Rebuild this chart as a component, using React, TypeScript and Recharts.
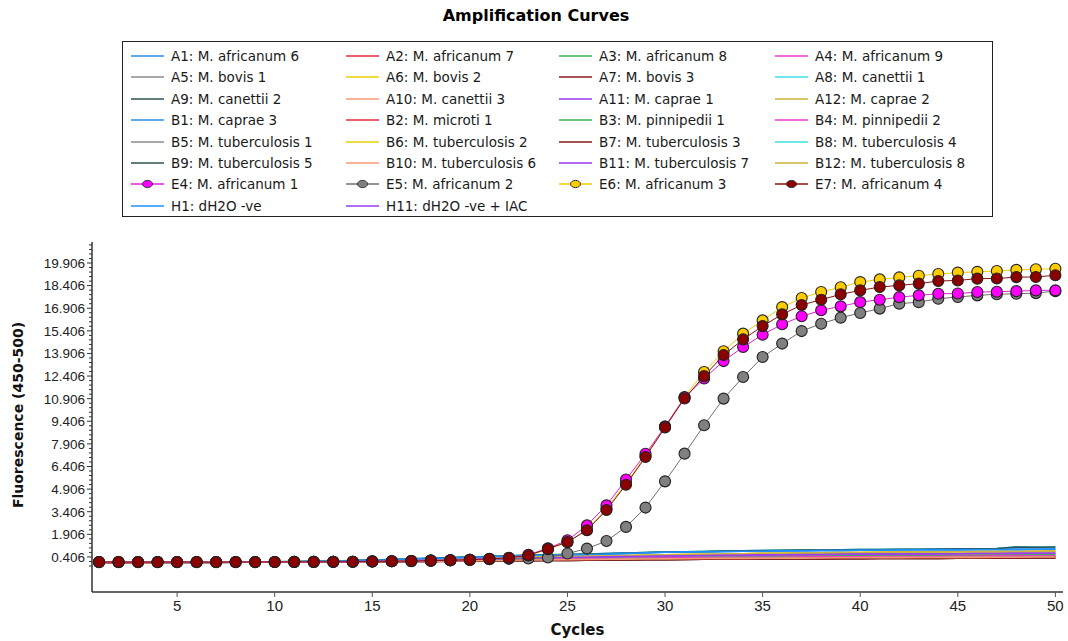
import { LineChart, Line, XAxis, YAxis } from "recharts"

// cycle numbers on the x axis
const cycles = [
  1, 2, 3, 4, 5, 6, 7, 8, 9, 10, 11, 12, 13, 14, 15, 16, 17, 18, 19, 20, 21, 22, 23, 24, 25,
  26, 27, 28, 29, 30, 31, 32, 33, 34, 35, 36, 37, 38, 39, 40, 41, 42, 43, 44, 45, 46, 47, 48, 49, 50,
]

const xTicks = [5, 10, 15, 20, 25, 30, 35, 40, 45, 50]
const yMajorTicks = [
  0.406, 1.906, 3.406, 4.906, 6.406, 7.906, 9.406, 10.906, 12.406, 13.906, 15.406, 16.906, 18.406, 19.906,
]

// amplification curves
const e4Africanum1 = [
  0.07, 0.06, 0.07, 0.07, 0.07, 0.06, 0.07, 0.07, 0.07, 0.07,
  0.07, 0.08, 0.09, 0.09, 0.11, 0.12, 0.13, 0.16, 0.18, 0.21,
  0.27, 0.35, 0.55, 0.98, 1.51, 2.5, 3.83, 5.54, 7.25, 9.05,
  10.98, 12.24, 13.4, 14.33, 15.15, 15.84, 16.37, 16.77, 17.03, 17.31,
  17.47, 17.64, 17.76, 17.87, 17.88, 17.98, 18.0, 18.04, 18.09, 18.09,
]
const e5Africanum2 = [
  0.07, 0.07, 0.06, 0.07, 0.07, 0.07, 0.07, 0.06, 0.07, 0.07,
  0.08, 0.08, 0.09, 0.09, 0.1, 0.12, 0.14, 0.16, 0.19, 0.22,
  0.26, 0.28, 0.3, 0.37, 0.63, 0.96, 1.46, 2.4, 3.68, 5.42,
  7.26, 9.14, 10.91, 12.34, 13.67, 14.56, 15.39, 15.88, 16.28, 16.59,
  16.88, 17.21, 17.31, 17.54, 17.65, 17.76, 17.83, 17.87, 17.91, 18.04,
]
const e6Africanum3 = [
  0.06, 0.07, 0.07, 0.07, 0.06, 0.07, 0.07, 0.07, 0.06, 0.07,
  0.08, 0.08, 0.09, 0.09, 0.1, 0.12, 0.14, 0.17, 0.19, 0.22,
  0.27, 0.33, 0.5, 0.92, 1.38, 2.2, 3.6, 5.3, 7.1, 9.05,
  11.02, 12.68, 14.05, 15.22, 16.1, 16.98, 17.58, 17.98, 18.3, 18.64,
  18.82, 18.95, 19.06, 19.18, 19.27, 19.32, 19.38, 19.45, 19.49, 19.53,
]
const e7Africanum4 = [
  0.07, 0.07, 0.07, 0.06, 0.07, 0.07, 0.06, 0.07, 0.07, 0.07,
  0.08, 0.08, 0.08, 0.09, 0.11, 0.12, 0.14, 0.16, 0.19, 0.22,
  0.28, 0.34, 0.52, 0.94, 1.4, 2.18, 3.52, 5.2, 7.04, 9.0,
  10.92, 12.4, 13.8, 14.84, 15.72, 16.5, 17.12, 17.47, 17.83, 18.09,
  18.31, 18.42, 18.54, 18.71, 18.75, 18.87, 18.88, 18.97, 18.98, 19.09,
]

// flat (non-amplifying) wells, grouped by how high they end up
const flatTeal = [
  0.06, 0.06, 0.06, 0.07, 0.06, 0.07, 0.07, 0.08, 0.08, 0.09,
  0.1, 0.11, 0.13, 0.16, 0.2, 0.24, 0.28, 0.32, 0.36, 0.4,
  0.44, 0.48, 0.51, 0.54, 0.57, 0.6, 0.63, 0.67, 0.7, 0.73,
  0.75, 0.77, 0.79, 0.81, 0.83, 0.85, 0.86, 0.87, 0.88, 0.89,
  0.9, 0.91, 0.92, 0.93, 0.94, 0.95, 0.97, 1.06, 1.05, 1.07,
]
const flatBlue = [
  0.05, 0.06, 0.06, 0.06, 0.07, 0.06, 0.07, 0.07, 0.08, 0.08,
  0.09, 0.1, 0.12, 0.15, 0.18, 0.22, 0.26, 0.3, 0.34, 0.38,
  0.42, 0.46, 0.5, 0.53, 0.55, 0.57, 0.6, 0.64, 0.68, 0.72,
  0.74, 0.75, 0.77, 0.78, 0.8, 0.81, 0.82, 0.83, 0.84, 0.86,
  0.87, 0.88, 0.88, 0.89, 0.89, 0.9, 0.9, 0.91, 0.92, 0.93,
]
const flatYellow = [
  0.05, 0.05, 0.06, 0.06, 0.06, 0.06, 0.07, 0.07, 0.07, 0.08,
  0.08, 0.09, 0.1, 0.12, 0.14, 0.17, 0.2, 0.23, 0.26, 0.29,
  0.32, 0.35, 0.38, 0.41, 0.44, 0.46, 0.48, 0.5, 0.52, 0.54,
  0.56, 0.58, 0.6, 0.62, 0.64, 0.65, 0.66, 0.68, 0.69, 0.7,
  0.71, 0.73, 0.74, 0.74, 0.75, 0.76, 0.76, 0.77, 0.78, 0.79,
]
const flatPurple = [
  0.05, 0.05, 0.05, 0.06, 0.06, 0.06, 0.06, 0.07, 0.07, 0.07,
  0.08, 0.08, 0.09, 0.1, 0.12, 0.14, 0.16, 0.19, 0.22, 0.25,
  0.28, 0.3, 0.33, 0.35, 0.37, 0.39, 0.41, 0.43, 0.45, 0.47,
  0.48, 0.5, 0.51, 0.52, 0.54, 0.55, 0.56, 0.57, 0.58, 0.59,
  0.59, 0.6, 0.61, 0.61, 0.62, 0.63, 0.63, 0.64, 0.65, 0.65,
]
const flatGreen = [
  0.04, 0.05, 0.05, 0.05, 0.05, 0.06, 0.06, 0.06, 0.06, 0.07,
  0.07, 0.08, 0.08, 0.09, 0.11, 0.13, 0.15, 0.17, 0.2, 0.22,
  0.25, 0.27, 0.29, 0.31, 0.33, 0.34, 0.36, 0.37, 0.39, 0.4,
  0.41, 0.42, 0.43, 0.44, 0.45, 0.46, 0.47, 0.48, 0.48, 0.49,
  0.5, 0.51, 0.51, 0.52, 0.53, 0.53, 0.55, 0.56, 0.56, 0.57,
]
const flatRed = [
  0.04, 0.04, 0.05, 0.05, 0.05, 0.05, 0.05, 0.06, 0.06, 0.06,
  0.07, 0.07, 0.08, 0.09, 0.1, 0.11, 0.13, 0.15, 0.17, 0.19,
  0.21, 0.23, 0.25, 0.26, 0.28, 0.29, 0.3, 0.31, 0.33, 0.34,
  0.35, 0.36, 0.37, 0.38, 0.38, 0.39, 0.4, 0.41, 0.41, 0.42,
  0.43, 0.43, 0.44, 0.44, 0.45, 0.45, 0.46, 0.46, 0.47, 0.47,
]
const flatSalmon = [
  0.03, 0.04, 0.04, 0.04, 0.05, 0.05, 0.05, 0.05, 0.05, 0.06,
  0.06, 0.06, 0.07, 0.08, 0.09, 0.1, 0.11, 0.13, 0.14, 0.16,
  0.17, 0.19, 0.2, 0.21, 0.23, 0.24, 0.25, 0.26, 0.27, 0.28,
  0.29, 0.3, 0.31, 0.31, 0.32, 0.33, 0.33, 0.34, 0.35, 0.35,
  0.36, 0.36, 0.37, 0.37, 0.38, 0.38, 0.39, 0.39, 0.4, 0.4,
]
const flatDark = [
  0.03, 0.03, 0.04, 0.04, 0.04, 0.04, 0.04, 0.05, 0.05, 0.05,
  0.05, 0.06, 0.06, 0.07, 0.08, 0.09, 0.1, 0.11, 0.12, 0.13,
  0.14, 0.15, 0.16, 0.17, 0.18, 0.19, 0.2, 0.21, 0.22, 0.23,
  0.24, 0.25, 0.25, 0.26, 0.27, 0.27, 0.28, 0.28, 0.29, 0.29,
  0.3, 0.3, 0.31, 0.31, 0.32, 0.32, 0.33, 0.33, 0.34, 0.34,
]

// legend order (row by row, 4 per row)
const wellIds = [
  "A1", "A2", "A3", "A4", "A5", "A6", "A7", "A8", "A9", "A10", "A11", "A12",
  "B1", "B2", "B3", "B4", "B5", "B6", "B7", "B8", "B9", "B10", "B11", "B12",
  "E4", "E5", "E6", "E7", "H1", "H11",
]
const sampleNames = [
  "M. africanum 6", "M. africanum 7", "M. africanum 8", "M. africanum 9",
  "M. bovis 1", "M. bovis 2", "M. bovis 3", "M. canettii 1",
  "M. canettii 2", "M. canettii 3", "M. caprae 1", "M. caprae 2",
  "M. caprae 3", "M. microti 1", "M. pinnipedii 1", "M. pinnipedii 2",
  "M. tuberculosis 1", "M. tuberculosis 2", "M. tuberculosis 3", "M. tuberculosis 4",
  "M. tuberculosis 5", "M. tuberculosis 6", "M. tuberculosis 7", "M. tuberculosis 8",
  "M. africanum 1", "M. africanum 2", "M. africanum 3", "M. africanum 4",
  "dH2O -ve", "dH2O -ve + IAC",
]
const wellColors = [
  "#2b8fe6", "#e8283c", "#3cb45a", "#f038d0", "#8c8c8c", "#e8d200", "#8b1a1a", "#3ee0e0",
  "#2f5050", "#f49a70", "#9a3cf0", "#c8b43c",
  "#2b8fe6", "#e8283c", "#3cb45a", "#f038d0", "#8c8c8c", "#e8d200", "#8b1a1a", "#3ee0e0",
  "#2f5050", "#f49a70", "#9a3cf0", "#c8b43c",
  "#e020e0", "#707070", "#f0d000", "#8b1010", "#1e90ff", "#9a3cf0",
]
const markerColors: Record<string, string> = {
  E4: "#ff00ff",
  E5: "#808080",
  E6: "#ffcc00",
  E7: "#8b0000",
}
const wellValues = [
  flatBlue, flatRed, flatGreen, flatRed, flatSalmon, flatYellow, flatDark, flatTeal,
  flatDark, flatSalmon, flatPurple, flatYellow,
  flatBlue, flatRed, flatGreen, flatRed, flatSalmon, flatPurple, flatDark, flatTeal,
  flatTeal, flatSalmon, flatPurple, flatYellow,
  e4Africanum1, e5Africanum2, e6Africanum3, e7Africanum4, flatBlue, flatPurple,
]

const chartData = cycles.map((c, i) => {
  const row: Record<string, number> = { cycle: c }
  wellIds.forEach((id, k) => {
    row[id] = wellValues[k][i]
  })
  return row
})

// minor ticks every 0.3 between the labelled ones
const yAllTicks: number[] = []
for (let v = yMajorTicks[0] - 0.6; v < 21.2; v += 0.3) {
  yAllTicks.push(Math.round(v * 1000) / 1000)
}

const drawOrder = [
  ...wellIds.filter((id) => !markerColors[id]),
  "E5", "E6", "E4", "E7",
]

const sans = "'Liberation Sans', Arial, sans-serif"
const legendFont = "'DejaVu Sans', Verdana, sans-serif"

function YTick(props: any) {
  const { x, y, payload } = props
  const v = payload.value
  const major = yMajorTicks.some((t) => Math.abs(t - v) < 1e-6)
  return (
    <g>
      <line x1={x} x2={x - (major ? 5 : 3)} y1={y} y2={y} stroke="#333" />
      {major && (
        <text x={x - 7} y={y} dy="0.36em" textAnchor="end" fontSize={13.5} fill="#222" fontFamily={sans}>
          {v.toFixed(3)}
        </text>
      )}
    </g>
  )
}

function LegendBox() {
  const colX = [131, 346, 559, 775]
  return (
    <div
      style={{
        position: "absolute",
        left: 122,
        top: 41,
        width: 871,
        height: 176,
        border: "1.5px solid #222",
        boxSizing: "border-box",
      }}
    >
      {wellIds.map((id, k) => {
        const col = k % 4
        const row = Math.floor(k / 4)
        const marker = markerColors[id]
        return (
          <div
            key={id}
            style={{
              position: "absolute",
              left: colX[col] - 123,
              top: 4 + row * 21.4,
              height: 20,
              display: "flex",
              alignItems: "center",
              whiteSpace: "nowrap",
            }}
          >
            <svg width={34} height={12} style={{ marginRight: 6 }}>
              <line x1={0} x2={33} y1={6} y2={6} stroke={wellColors[k]} strokeWidth={1.5} />
              {marker && <ellipse cx={16.5} cy={6} rx={5} ry={3.6} fill={marker} stroke="#333" strokeWidth={1} />}
            </svg>
            <span style={{ fontFamily: legendFont, fontSize: 13.5, color: "#1a1a1a" }}>
              {id}: {sampleNames[k]}
            </span>
          </div>
        )
      })}
    </div>
  )
}

export default function App() {
  return (
    <div style={{ position: "absolute", left: 0, top: 0, width: 1068, height: 641, background: "#fff" }}>
      <div
        style={{
          position: "absolute",
          left: 0,
          width: 1072,
          top: 6,
          textAlign: "center",
          fontFamily: legendFont,
          fontWeight: "bold",
          fontSize: 16,
          color: "#000",
        }}
      >
        Amplification Curves
      </div>
      <LegendBox />
      <LineChart
        width={1068}
        height={641}
        data={chartData}
        margin={{ top: 242, right: 5, bottom: 0, left: 0 }}
        style={{ position: "absolute", left: 0, top: 0 }}
      >
        <XAxis
          dataKey="cycle"
          type="number"
          domain={[0.64, 50.39]}
          allowDataOverflow
          ticks={xTicks}
          interval={0}
          height={49}
          tickSize={5}
          tickMargin={3}
          axisLine={{ stroke: "#333", strokeWidth: 1.5 }}
          tickLine={{ stroke: "#555" }}
          tick={{ fontSize: 15, fill: "#222", fontFamily: sans }}
          label={{
            value: "Cycles",
            position: "insideBottom",
            offset: 6,
            style: { fontSize: 15, fontWeight: "bold", fill: "#111", fontFamily: legendFont },
          }}
        />
        <XAxis xAxisId="top" orientation="top" type="number" domain={[0.64, 50.39]} height={0} tick={false} tickLine={false} axisLine={{ stroke: "#333", strokeWidth: 1.5 }} />
        <YAxis
          type="number"
          domain={[-1.92, 21.3]}
          allowDataOverflow
          ticks={yAllTicks}
          interval={0}
          width={92}
          tickSize={0}
          tickMargin={0}
          tickLine={false}
          axisLine={{ stroke: "#333", strokeWidth: 1.5 }}
          tick={<YTick />}
          label={{
            content: (p: any) => {
              const vb = p.viewBox
              const cx = vb.x + 18
              const cy = vb.y + vb.height / 2 - 2
              return (
                <text
                  x={cx}
                  y={cy}
                  transform={`rotate(-90 ${cx} ${cy})`}
                  textAnchor="middle"
                  dominantBaseline="central"
                  fontSize={14}
                  fontWeight="bold"
                  fill="#111"
                  fontFamily={legendFont}
                >
                  Fluorescence (450-500)
                </text>
              )
            },
          }}
        />
        <YAxis yAxisId="right" orientation="right" type="number" domain={[-1.92, 21.3]} width={0} tick={false} tickLine={false} axisLine={{ stroke: "#333", strokeWidth: 1.5 }} />
        {drawOrder.map((id) => {
          const k = wellIds.indexOf(id)
          const marker = markerColors[id]
          return (
            <Line
              key={id}
              dataKey={id}
              type="linear"
              stroke={wellColors[k]}
              strokeWidth={marker ? 1 : 1.6}
              dot={marker ? { r: 5.5, fill: marker, stroke: "#222", strokeWidth: 1.1 } : false}
              activeDot={false}
              isAnimationActive={false}
            />
          )
        })}
      </LineChart>
    </div>
  )
}
